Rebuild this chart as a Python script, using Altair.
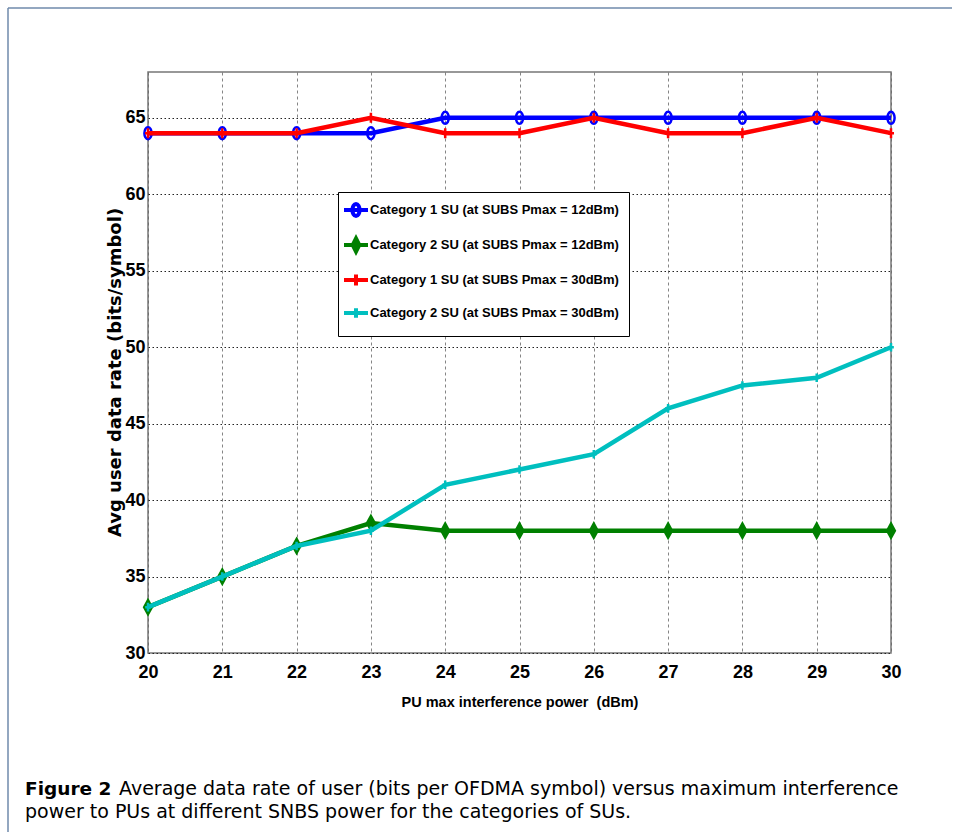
import altair as alt
import pandas as pd

# ---------------- data ----------------
x_vals = [20, 21, 22, 23, 24, 25, 26, 27, 28, 29, 30]
cat1_12 = [64, 64, 64, 64, 65, 65, 65, 65, 65, 65, 65]
cat2_12 = [33, 35, 37, 38.5, 38, 38, 38, 38, 38, 38, 38]
cat1_30 = [64, 64, 64, 65, 64, 64, 65, 64, 64, 65, 64]
cat2_30 = [33, 35, 37, 38, 41, 42, 43, 46, 47.5, 48, 50]

names = [
    "Category 1 SU (at SUBS Pmax = 12dBm)",
    "Category 2 SU (at SUBS Pmax = 12dBm)",
    "Category 1 SU (at SUBS Pmax = 30dBm)",
    "Category 2 SU (at SUBS Pmax = 30dBm)",
]
series_values = [cat1_12, cat2_12, cat1_30, cat2_30]
colors = ["#0000ff", "#008000", "#ff0000", "#00bfbf"]
fills = ["transparent", "#008000", "transparent", "transparent"]

x_ticks = list(range(20, 31))
y_ticks = [30, 35, 40, 45, 50, 55, 60, 65]

x_title = "PU max interference power \u00a0(dBm)"
y_title = "Avg user data rate (bits/symbol)"
caption_bold = "Figure 2"
caption_line1 = "Average data rate of user (bits per OFDMA symbol) versus maximum interference"
caption_line2 = "power to PUs at different SNBS power for the categories of SUs."

# marker paths (unit square -1..1)
marker_paths = [
    "M0,-1A0.6,1 0 1,1 0,1A0.6,1 0 1,1 0,-1Z",
    "M0,-1L0.55,0L0,1L-0.55,0Z",
    "M-0.6,0H0.6M0,-1V1",
    "M-0.6,0H0.6M0,-0.9V0.9",
]
marker_sizes = [144, 196, 100, 90]
legend_paths = [
    "M-2,0H2M0,-1A0.6,1 0 1,1 0,1A0.6,1 0 1,1 0,-1Z",
    "M-2,0H2M0,-1.1L0.55,0L0,1.1L-0.55,0Z",
    "M-2,0H2M0,-0.9V0.9",
    "M-2,0H2M0,-0.8V0.8",
]

rows = []
for name, vals in zip(names, series_values):
    for xv, yv in zip(x_vals, vals):
        rows.append({"x": xv, "y": yv, "series": name})
df = pd.DataFrame(rows)

AX_FONT = "Liberation Sans"
CAPTION_FONT = "DejaVu Sans"

PLOT_L, PLOT_T = 148, 72

X = alt.X(
    "x:Q",
    scale=alt.Scale(domain=[20, 30], nice=False, zero=False),
    axis=alt.Axis(
        values=x_ticks, title=x_title, format="d",
        labelFont=AX_FONT, labelFontSize=18, labelFontWeight="bold", labelColor="#000",
        labelPadding=10, ticks=False, tickSize=0, domain=False,
        titleFont=AX_FONT, titleFontSize=14.5, titleFontWeight="bold", titleColor="#000",
        titlePadding=14, labelOverlap=False, labelFlush=False,
        grid=True, gridColor="#666", gridDash=[3, 3], gridWidth=0.8,
    ),
)
Y = alt.Y(
    "y:Q",
    scale=alt.Scale(domain=[30, 68], nice=False, zero=False),
    axis=alt.Axis(
        values=y_ticks, title=y_title, format="d",
        labelFont=AX_FONT, labelFontSize=18, labelFontWeight="bold", labelColor="#000",
        labelPadding=3, ticks=False, tickSize=0, domain=False,
        titleFont="DejaVu Sans", titleFontSize=18, titleFontWeight="bold", titleColor="#000",
        titleX=-24, titleY=300, titleAngle=270, titleAlign="center", titleBaseline="bottom",
        labelOverlap=False,
        grid=True, gridColor="#222", gridDash=[1.5, 2.5], gridWidth=1,
    ),
)

color_scale = alt.Scale(domain=names, range=colors)

layers = []
for i, name in enumerate(names):
    base = alt.Chart(df).transform_filter(alt.datum.series == name)
    line = base.mark_line(strokeWidth=4.5, color=colors[i]).encode(x=X, y=Y)
    pts = base.mark_point(
        shape=marker_paths[i], size=marker_sizes[i], stroke=colors[i],
        fill=fills[i], strokeWidth=2.5, opacity=1, filled=(fills[i] != "transparent"),
    ).encode(x=X, y=Y)
    layers += [line, pts]

legend_layer = alt.Chart(df).mark_point(opacity=0, filled=False).encode(
    x=X, y=Y,
    color=alt.Color("series:N", scale=color_scale, sort=names, legend=alt.Legend(title=None)),
    shape=alt.Shape("series:N", scale=alt.Scale(domain=names, range=legend_paths), sort=names,
                    legend=alt.Legend(title=None)),
)
layers.append(legend_layer)

one = pd.DataFrame({"k": [0]})
border_left = alt.Chart(one).mark_rule(color="#6f8aab", strokeWidth=1.5).encode(
    x=alt.value(8 - PLOT_L), y=alt.value(8 - PLOT_T), y2=alt.value(832 - PLOT_T))
border_top = alt.Chart(one).mark_rule(color="#6f8aab", strokeWidth=1.5).encode(
    x=alt.value(8 - PLOT_L), x2=alt.value(952 - PLOT_L), y=alt.value(8 - PLOT_T))

cap_b = alt.Chart(one).mark_text(align="left", baseline="alphabetic", font=CAPTION_FONT,
                                 fontSize=18.5, fontWeight="bold", color="#000").encode(
    x=alt.value(25 - PLOT_L), y=alt.value(795 - PLOT_T), text=alt.value(caption_bold))
cap_1 = alt.Chart(one).mark_text(align="left", baseline="alphabetic", font=CAPTION_FONT,
                                 fontSize=19, color="#000").encode(
    x=alt.value(119 - PLOT_L), y=alt.value(795 - PLOT_T), text=alt.value(caption_line1))
cap_2 = alt.Chart(one).mark_text(align="left", baseline="alphabetic", font=CAPTION_FONT,
                                 fontSize=19, color="#000").encode(
    x=alt.value(25 - PLOT_L), y=alt.value(818 - PLOT_T), text=alt.value(caption_line2))

chart = alt.layer(*layers, border_left, border_top, cap_b, cap_1, cap_2).properties(
    width=743, height=581,
    padding={"left": 7, "top": 7, "right": 0, "bottom": 0},
    background="white",
).configure_view(
    stroke="#777", strokeWidth=1.5
).configure_legend(
    orient="none", legendX=190, legendY=120,
    fillColor="white", strokeColor="#000", padding=10,
    labelFont=AX_FONT, labelFontSize=13, labelFontWeight="bold", labelColor="#000",
    labelOffset=6, rowPadding=6, symbolSize=144, symbolStrokeWidth=4,
    symbolOpacity=1, labelLimit=400,
)

chart.save("out.html", embed_options={"renderer": "svg", "actions": False})
